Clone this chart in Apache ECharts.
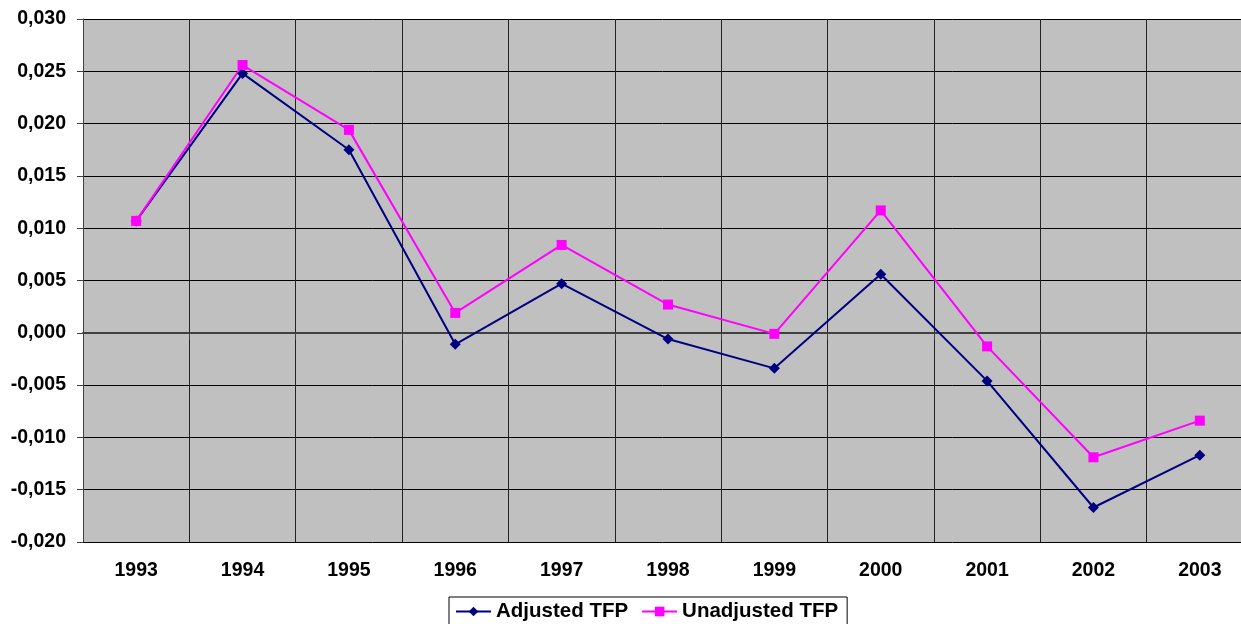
<!DOCTYPE html>
<html>
<head>
<meta charset="utf-8">
<script src="https://cdn.jsdelivr.net/npm/echarts@6/dist/echarts.min.js"></script>
<style>
html, body { margin: 0; padding: 0; background: #fff; }
#main { width: 1241px; height: 624px; }
</style>
</head>
<body>
<div id="main"></div>
<script>
var chart = echarts.init(document.getElementById('main'));

// data
var years = ['1993', '1994', '1995', '1996', '1997', '1998', '1999', '2000', '2001', '2002', '2003'];
var adjustedTFP = [0.0107, 0.0248, 0.0175, -0.0011, 0.0047, -0.0006, -0.0034, 0.0056, -0.0046, -0.0167, -0.0117];
var unadjustedTFP = [0.0107, 0.0256, 0.0194, 0.0019, 0.0084, 0.0027, -0.0001, 0.0117, -0.0013, -0.0119, -0.0084];

var font = '"Liberation Sans", Arial, sans-serif';

var option = {
    animation: false,
    backgroundColor: '#fff',
    textStyle: { fontFamily: font },
    legend: {
        left: 449,
        top: 597,
        padding: [4, 9, 4, 6],
        itemGap: 13,
        itemWidth: 35,
        itemHeight: 12,
        borderColor: '#000',
        borderWidth: 1,
        borderRadius: 0,
        textStyle: {
            color: '#000',
            fontSize: 20.5,
            fontWeight: 'bold',
            fontFamily: font
        },
        data: ['Adjusted TFP', 'Unadjusted TFP']
    },
    grid: {
        left: 83,
        top: 19,
        right: -12,
        bottom: 82,
        outerBoundsMode: 'none',
        containLabel: false,
        show: true,
        backgroundColor: '#c0c0c0',
        borderWidth: 0
    },
    xAxis: {
        type: 'category',
        data: years,
        boundaryGap: true,
        axisLine: { show: true, lineStyle: { color: '#404040', width: 2 } },
        axisTick: { show: true, length: 7, alignWithLabel: false, lineStyle: { color: '#404040' } },
        axisLabel: {
            margin: 19,
            color: '#000',
            fontSize: 19.5,
            fontWeight: 'bold',
            fontFamily: font
        },
        splitLine: { show: true, lineStyle: { color: '#222', width: 1 } }
    },
    yAxis: {
        type: 'value',
        min: -0.02,
        max: 0.03,
        interval: 0.005,
        axisLine: { show: true, lineStyle: { color: '#404040', width: 1 } },
        axisTick: { show: true, length: 6, lineStyle: { color: '#404040' } },
        axisLabel: {
            margin: 17,
            color: '#000',
            fontSize: 19.5,
            fontWeight: 'bold',
            fontFamily: font,
            formatter: function (v) {
                if (Math.abs(v) < 1e-9) v = 0;
                return v.toFixed(3).replace('.', ',');
            }
        },
        splitLine: { show: true, lineStyle: { color: '#000', width: 1 } }
    },
    series: [
        {
            name: 'Adjusted TFP',
            type: 'line',
            data: adjustedTFP,
            symbol: 'diamond',
            symbolSize: 11,
            color: '#000080',
            lineStyle: { color: '#000080', width: 2 },
            itemStyle: { color: '#000080' }
        },
        {
            name: 'Unadjusted TFP',
            type: 'line',
            data: unadjustedTFP,
            symbol: 'rect',
            symbolSize: 10,
            color: '#ff00ff',
            lineStyle: { color: '#ff00ff', width: 2 },
            itemStyle: { color: '#ff00ff' }
        }
    ]
};

chart.setOption(option);
</script>
</body>
</html>
